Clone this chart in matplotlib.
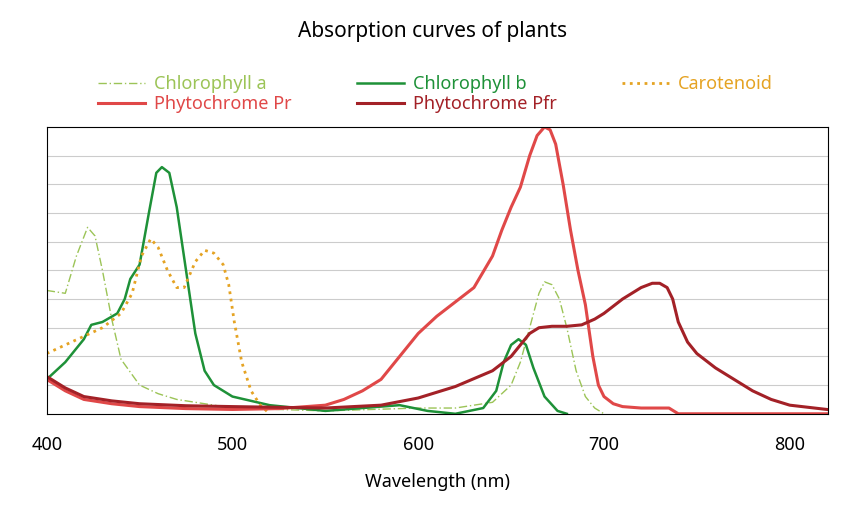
import matplotlib.pyplot as plt

plt.rcParams['font.family'] = ['Noto Sans', 'DejaVu Sans']

# Chlorophyll a
wl_chla = [400, 410, 416, 422, 426, 430, 435, 440, 450, 460, 470, 500, 550, 600, 620, 640, 650, 655, 660, 665, 668, 672, 676, 680, 685, 690, 695, 700]
ab_chla = [0.43, 0.42, 0.55, 0.65, 0.62, 0.50, 0.33, 0.19, 0.10, 0.07, 0.05, 0.02, 0.01, 0.02, 0.02, 0.04, 0.10, 0.18, 0.30, 0.42, 0.46, 0.45, 0.40, 0.30, 0.15, 0.06, 0.02, 0.0]

# Chlorophyll b
wl_chlb = [400, 410, 420, 424, 430, 438, 442, 445, 450, 455, 459, 462, 466, 470, 475, 480, 485, 490, 500, 520, 550, 590, 605, 620, 635, 642, 646, 650, 654, 658, 662, 668, 675, 680]
ab_chlb = [0.12, 0.18, 0.26, 0.31, 0.32, 0.35, 0.40, 0.47, 0.52, 0.70, 0.84, 0.86, 0.84, 0.72, 0.50, 0.28, 0.15, 0.10, 0.06, 0.03, 0.01, 0.03, 0.01, 0.0, 0.02, 0.08, 0.18, 0.24, 0.26, 0.24, 0.16, 0.06, 0.01, 0.0]

# Carotenoid
wl_car = [400, 410, 420, 430, 440, 446, 451, 456, 460, 465, 470, 474, 480, 485, 490, 495, 498, 501, 505, 510, 515, 520]
ab_car = [0.21, 0.24, 0.27, 0.30, 0.35, 0.42, 0.55, 0.61, 0.58, 0.50, 0.44, 0.44, 0.53, 0.57, 0.56, 0.52, 0.45, 0.32, 0.18, 0.08, 0.03, 0.0]

# Phytochrome Pr
wl_pr = [400, 410, 420, 435, 450, 475, 500, 525, 550, 560, 570, 580, 590, 600, 610, 620, 630, 640, 645, 650, 655, 660, 664, 668, 671, 674, 678, 682, 686, 690, 694, 697, 700, 705, 710, 720, 735, 740, 780, 820]
ab_pr = [0.12, 0.08, 0.05, 0.035, 0.025, 0.018, 0.015, 0.018, 0.03, 0.05, 0.08, 0.12, 0.20, 0.28, 0.34, 0.39, 0.44, 0.55, 0.64, 0.72, 0.79, 0.90, 0.97, 1.0, 0.99, 0.94, 0.80, 0.64, 0.50, 0.38, 0.20, 0.10, 0.06, 0.035, 0.025, 0.02, 0.02, 0.0, 0.0, 0.0]

# Phytochrome Pfr
wl_pfr = [400, 410, 420, 435, 450, 475, 500, 550, 580, 600, 620, 640, 650, 655, 660, 665, 672, 680, 688, 695, 700, 710, 720, 726, 730, 734, 737, 740, 745, 750, 760, 770, 780, 790, 800, 820]
ab_pfr = [0.13, 0.09, 0.06, 0.045, 0.035, 0.028, 0.025, 0.02, 0.03, 0.055, 0.095, 0.15, 0.20, 0.24, 0.28, 0.30, 0.305, 0.305, 0.31, 0.33, 0.35, 0.40, 0.44, 0.455, 0.455, 0.44, 0.40, 0.32, 0.25, 0.21, 0.16, 0.12, 0.08, 0.05, 0.03, 0.015]

series = [
    ("Chlorophyll a", wl_chla, ab_chla, '#9cc457', (0, (6, 2, 1, 2)), 1.0),
    ("Chlorophyll b", wl_chlb, ab_chlb, '#1e9138', '-', 1.8),
    ("Carotenoid", wl_car, ab_car, '#e5a323', ':', 2.0),
    ("Phytochrome Pr", wl_pr, ab_pr, '#e04848', '-', 2.2),
    ("Phytochrome Pfr", wl_pfr, ab_pfr, '#a32127', '-', 2.2),
]

fig = plt.figure(figsize=(8.65, 5.14), dpi=100)
ax = fig.add_axes([0.054, 0.195, 0.903, 0.558])

lines = {}
for name, x, y, c, ls, lw in series:
    lines[name], = ax.plot(x, y, color=c, linestyle=ls, linewidth=lw, label=name)

ax.set_xlim(400, 820.5)
ax.set_ylim(0, 1.0)
for g in [i / 10 for i in range(1, 10)]:
    ax.axhline(g, color='#cccccc', linewidth=0.8, zorder=0)
ax.set_yticks([])
ax.set_xticks([400, 500, 600, 700, 800])
ax.tick_params(axis='x', labelsize=13, length=0, pad=16)
ax.set_xlabel("Wavelength (nm)", fontsize=13, labelpad=14)

fig.suptitle("Absorption curves of plants", fontsize=15, y=0.96)

# column-major legend filling -> order so rows read a, b, carotenoid / Pr, Pfr
order = ["Chlorophyll a", "Phytochrome Pr", "Chlorophyll b", "Phytochrome Pfr", "Carotenoid"]
colors = {s[0]: s[3] for s in series}
leg = fig.legend([lines[n] for n in order], order, loc='upper left',
                 bbox_to_anchor=(0.095, 0.885), ncol=3, frameon=False,
                 fontsize=13, handlelength=2.6, columnspacing=3.6, labelspacing=0.1,
                 handletextpad=0.5)
for txt in leg.get_texts():
    txt.set_color(colors[txt.get_text()])

fig.savefig("out.png", dpi=100)
